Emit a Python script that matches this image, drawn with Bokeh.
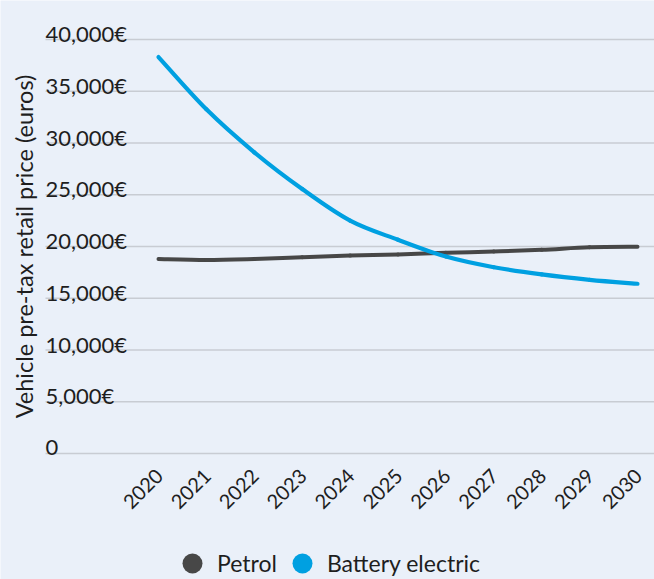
import math
from bokeh.plotting import figure
from bokeh.models import Range1d, Legend, LegendItem
from bokeh.core.properties import value
from bokeh.embed import file_html
from bokeh.resources import INLINE

# ---- data ----
years = [2020, 2021, 2022, 2023, 2024, 2025, 2026, 2027, 2028, 2029, 2030]
petrol = [18800, 18700, 18800, 18970, 19120, 19230, 19390, 19520, 19680, 19920, 19970]
battery_electric = [38300, 33250, 29100, 25550, 22500, 20650, 19030, 18000, 17300, 16780, 16400]
y_ticks = [0, 5000, 10000, 15000, 20000, 25000, 30000, 35000, 40000]
y_tick_labels = ["0", "5,000€", "10,000€", "15,000€", "20,000€", "25,000€",
                 "30,000€", "35,000€", "40,000€"]
series_names = ["Petrol", "Battery electric"]
y_title = "Vehicle pre-tax retail price (euros)"

# ---- style ----
BG = "#EAF0F9"
GRID = "#C8CCD3"
TXT = "#1E1E1E"
C_PETROL = "#474747"
C_BEV = "#00A0E1"
FONT = "Lato"

W, H = 654, 579
# layout in page pixels
x_first_px, x_last_px = 158, 637
y_zero_px, y_top_px = 453, 39
px_year = (x_last_px - x_first_px) / (years[-1] - years[0])
px_eur = (y_zero_px - y_top_px) / (y_ticks[-1] - y_ticks[0])

x_start = years[0] - x_first_px / px_year
x_end = x_start + W / px_year
y_end = y_ticks[-1] + y_top_px / px_eur
y_start = y_end - H / px_eur

def dx(px):
    return x_start + px / px_year

def dy(py):
    return y_end - py / px_eur

p = figure(width=W, height=H, x_range=Range1d(x_start, x_end), y_range=Range1d(y_start, y_end),
           output_backend="svg", toolbar_location=None, x_axis_type=None, y_axis_type=None,
           min_border=0, background_fill_color=BG, border_fill_color=BG, outline_line_color=None)

grid_left = dx(45)
n = len(y_ticks)
p.segment(x0=[grid_left] * n, y0=y_ticks, x1=[x_end] * n, y1=y_ticks,
          line_color=GRID, line_width=1.6)

p.text(x=[grid_left] * n, y=y_ticks, text=y_tick_labels, text_font=value(FONT),
       text_font_size="22px", text_color=TXT, text_align="left", text_baseline="alphabetic",
       y_offset=-6)

p.text(x=[dx(23)], y=[dy(246)], text=[y_title], angle=math.pi / 2, text_font=value(FONT),
       text_font_size="23.5px", text_color=TXT, text_align="center", text_baseline="middle")

p.text(x=years, y=[0] * len(years), text=[str(y) for y in years], angle=math.pi / 4,
       text_font=value(FONT), text_font_size="20px", text_color=TXT, text_align="right",
       text_baseline="middle", y_offset=19, x_offset=1)

def smooth(xs, ys):
    # Catmull-Rom through the data points, drawn as cubic Bezier segments
    m = len(xs)
    seg = dict(x0=[], y0=[], x1=[], y1=[], cx0=[], cy0=[], cx1=[], cy1=[])
    for i in range(m - 1):
        xa, ya = xs[max(i - 1, 0)], ys[max(i - 1, 0)]
        xb, yb = xs[i], ys[i]
        xc, yc = xs[i + 1], ys[i + 1]
        xd, yd = xs[min(i + 2, m - 1)], ys[min(i + 2, m - 1)]
        seg["x0"].append(xb); seg["y0"].append(yb)
        seg["x1"].append(xc); seg["y1"].append(yc)
        seg["cx0"].append(xb + (xc - xa) / 6); seg["cy0"].append(yb + (yc - ya) / 6)
        seg["cx1"].append(xc - (xd - xb) / 6); seg["cy1"].append(yc - (yd - yb) / 6)
    return seg

p.bezier(**smooth(years, petrol), line_color=C_PETROL, line_width=4, line_cap="round")
p.bezier(**smooth(years, battery_electric), line_color=C_BEV, line_width=4.2, line_cap="round")

r1 = p.scatter(x=years, y=petrol, fill_color=C_PETROL, line_alpha=0, size=0)
r2 = p.scatter(x=years, y=battery_electric, fill_color=C_BEV, line_alpha=0, size=0)
legend = Legend(items=[LegendItem(label=series_names[0], renderers=[r1]),
                       LegendItem(label=series_names[1], renderers=[r2])],
                orientation="horizontal", location=(167, -9), glyph_width=50, glyph_height=50,
                label_standoff=0, spacing=-3, padding=0, margin=0,
                background_fill_alpha=0, border_line_alpha=0,
                label_text_font=FONT, label_text_font_size="23px", label_text_color=TXT)
p.add_layout(legend)

open("out.html", "w").write(file_html(p, INLINE))
